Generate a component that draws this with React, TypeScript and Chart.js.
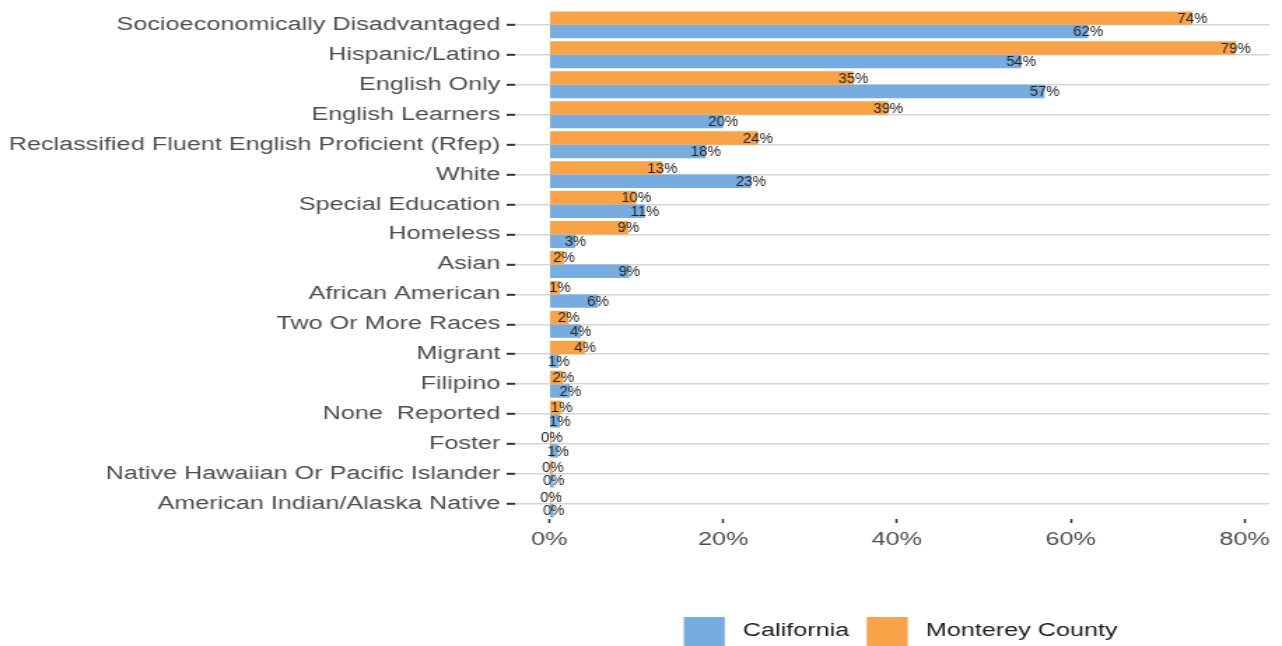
import React, { useEffect, useRef } from 'react';
import { Chart, registerables } from 'chart.js';

Chart.register(...registerables);

const categories = [
  'Socioeconomically Disadvantaged',
  'Hispanic/Latino',
  'English Only',
  'English Learners',
  'Reclassified Fluent English Proficient (Rfep)',
  'White',
  'Special Education',
  'Homeless',
  'Asian',
  'African American',
  'Two Or More Races',
  'Migrant',
  'Filipino',
  'None  Reported',
  'Foster',
  'Native Hawaiian Or Pacific Islander',
  'American Indian/Alaska Native',
];

const montereyValues = [74, 79, 35, 39, 24, 13, 10, 9.1, 1.7, 1.2, 2.2, 4.1, 1.6, 1.4, 0.27, 0.4, 0.2];
const californiaValues = [62, 54.3, 57, 20, 18, 23.2, 11, 3, 9.2, 5.6, 3.6, 1.1, 2.4, 1.2, 1.0, 0.5, 0.5];

const montereyLabels = ['74%', '79%', '35%', '39%', '24%', '13%', '10%', '9%', '2%', '1%', '2%', '4%', '2%', '1%', '0%', '0%', '0%'];
const californiaLabels = ['62%', '54%', '57%', '20%', '18%', '23%', '11%', '3%', '9%', '6%', '4%', '1%', '2%', '1%', '1%', '0%', '0%'];

const xTickValues = [0, 20, 40, 60, 80];
const seriesNames = ['California', 'Monterey County'];
const seriesColors = ['#76acdf', '#f8a348'];

const CANVAS_W = 916;
const CANVAS_H = 646;
const STRETCH = 1282 / CANVAS_W;
const FONT = "'Liberation Sans', Arial, Helvetica, sans-serif";

export default function App() {
  const canvasRef = useRef<HTMLCanvasElement | null>(null);

  useEffect(() => {
    const canvas = canvasRef.current;
    if (!canvas) return;

    const dataLabelPlugin = {
      id: 'dataLabels',
      afterDatasetsDraw(chart: any) {
        const ctx = chart.ctx;
        const labelSets = [montereyLabels, californiaLabels];
        ctx.save();
        ctx.font = `15px ${FONT}`;
        ctx.fillStyle = '#222222';
        ctx.textAlign = 'center';
        ctx.textBaseline = 'middle';
        chart.data.datasets.forEach((_ds: any, i: number) => {
          const meta = chart.getDatasetMeta(i);
          meta.data.forEach((el: any, j: number) => {
            const { x, y } = el.getProps(['x', 'y'], true);
            ctx.save();
            ctx.translate(x, y + 0.5);
            ctx.scale(1 / STRETCH, 1);
            ctx.fillText(labelSets[i][j], 0, 0);
            ctx.restore();
          });
        });
        ctx.restore();
      },
    };

    const legendPlugin = {
      id: 'customLegend',
      afterDraw(chart: any) {
        const ctx = chart.ctx;
        const area = chart.chartArea;
        ctx.save();
        ctx.font = `18px ${FONT}`;
        ctx.textBaseline = 'middle';
        ctx.textAlign = 'left';
        const box = 29.3;
        const gap = 12.8;
        const spacing = 12.6;
        const widths = seriesNames.map((n) => ctx.measureText(n).width);
        const total = seriesNames.length * (box + gap) + widths.reduce((a, b) => a + b, 0) + spacing * (seriesNames.length - 1);
        let x = (area.left + area.right) / 2 + 6 - total / 2;
        const cy = 631.5;
        seriesNames.forEach((name, i) => {
          ctx.fillStyle = seriesColors[i];
          ctx.fillRect(x, cy - 14.5, box, 29.5);
          x += box + gap;
          ctx.fillStyle = '#1a1a1a';
          ctx.fillText(name, x, cy);
          x += widths[i] + spacing;
        });
        ctx.restore();
      },
    };

    const chart = new Chart(canvas, {
      type: 'bar',
      data: {
        labels: categories,
        datasets: [
          {
            label: seriesNames[1],
            data: montereyValues,
            backgroundColor: seriesColors[1],
            borderWidth: 0,
            categoryPercentage: 0.9,
            barPercentage: 1.0,
          },
          {
            label: seriesNames[0],
            data: californiaValues,
            backgroundColor: seriesColors[0],
            borderWidth: 0,
            categoryPercentage: 0.9,
            barPercentage: 1.0,
          },
        ],
      },
      options: {
        indexAxis: 'y',
        animation: false,
        responsive: true,
        maintainAspectRatio: false,
        layout: { padding: { top: 9, right: 9, left: 0, bottom: 0 } },
        plugins: {
          legend: { display: false },
          tooltip: { enabled: false },
        },
        scales: {
          x: {
            type: 'linear',
            min: -3.95,
            max: 82.87,
            afterBuildTicks(scale: any) {
              scale.ticks = xTickValues.map((v) => ({ value: v }));
            },
            afterFit(scale: any) {
              scale.height = 127;
            },
            border: { display: false },
            grid: {
              drawOnChartArea: false,
              drawTicks: true,
              tickLength: 4,
              tickColor: '#333333',
              tickWidth: 1.5,
              color: '#333333',
            },
            ticks: {
              padding: 6,
              color: '#4d4d4d',
              font: { family: FONT, size: 18 },
              callback: (v: any) => `${v}%`,
            },
          },
          y: {
            type: 'category',
            offset: true,
            afterFit(scale: any) {
              scale.width = 368;
            },
            border: { display: false },
            grid: {
              offset: false,
              color: '#d6d6d6',
              lineWidth: 1.6,
              tickLength: 6,
              tickColor: '#333333',
              tickWidth: 2,
            },
            ticks: {
              autoSkip: false,
              padding: 4.5,
              color: '#4d4d4d',
              font: { family: FONT, size: 18, lineHeight: 0.6 },
            },
          },
        },
      },
      plugins: [dataLabelPlugin, legendPlugin],
    });

    return () => {
      chart.destroy();
    };
  }, []);

  return (
    <div
      style={{
        position: 'fixed',
        left: 0,
        top: 0,
        width: 1282,
        height: 646,
        overflow: 'hidden',
        background: '#ffffff',
      }}
    >
      <div
        style={{
          width: CANVAS_W,
          height: CANVAS_H,
          transform: `scaleX(${STRETCH})`,
          transformOrigin: '0 0',
          position: 'relative',
        }}
      >
        <canvas ref={canvasRef} />
      </div>
    </div>
  );
}
